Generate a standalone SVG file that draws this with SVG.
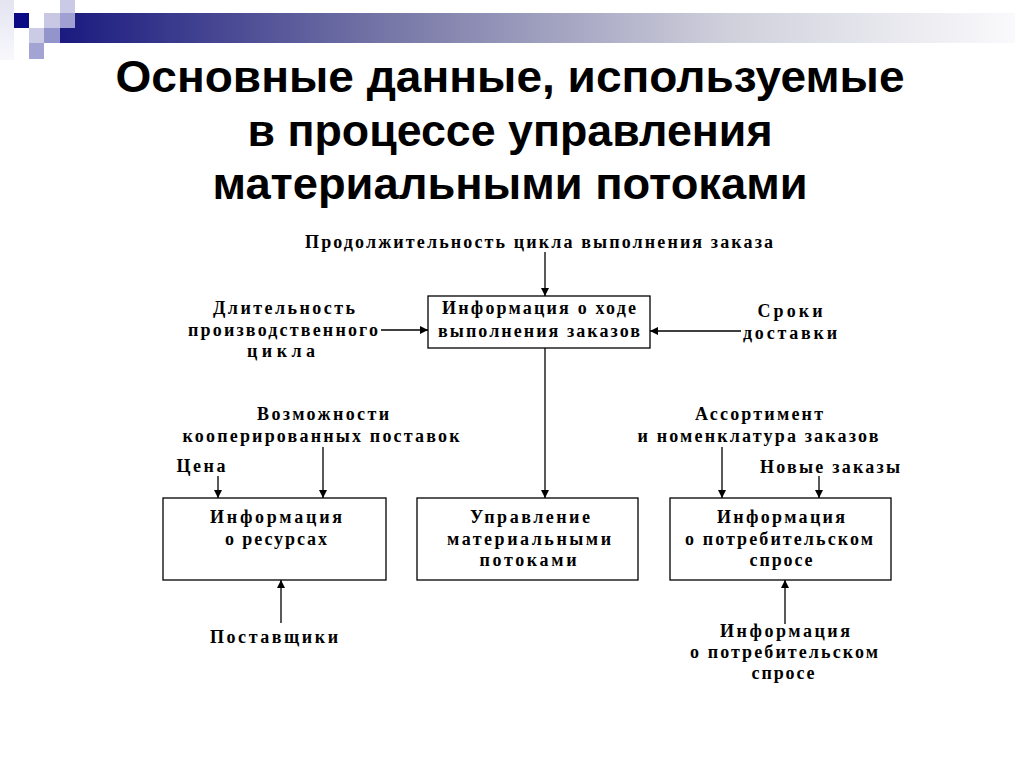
<svg xmlns="http://www.w3.org/2000/svg" width="1024" height="767" viewBox="0 0 1024 767">
<defs>
<linearGradient id="bar" x1="60" y1="0" x2="1015" y2="0" gradientUnits="userSpaceOnUse">
<stop offset="0" stop-color="#1a1a80"/>
<stop offset="0.35" stop-color="#7878a8"/>
<stop offset="0.7" stop-color="#d0d0dc"/>
<stop offset="1" stop-color="#fafafc"/>
</linearGradient>
<linearGradient id="faint" x1="0" y1="0" x2="0" y2="1">
<stop offset="0" stop-color="#e4e4f2"/>
<stop offset="1" stop-color="#f8f8fc"/>
</linearGradient>
<marker id="ah" viewBox="0 0 10 10" refX="10" refY="5" markerWidth="8" markerHeight="8" markerUnits="userSpaceOnUse" orient="auto">
<path d="M0,0 L10,5 L0,10 z" fill="#000"/>
</marker>
<style>
.t{font-family:"Liberation Serif","DejaVu Serif",serif;font-weight:bold;font-size:18px;fill:#000;text-anchor:middle}
.h{font-family:"Liberation Sans Narrow","Liberation Sans","Arial",sans-serif;font-weight:bold;font-size:44px;fill:#000;text-anchor:middle}
.box{fill:#fff;stroke:#000;stroke-width:1.3}
.c{stroke:#000;stroke-width:1.3;fill:none;marker-end:url(#ah)}
</style>
</defs>
<rect width="1024" height="767" fill="#fff"/>
<g id="decor">
<rect x="0" y="0" width="14" height="60" fill="url(#faint)"/>
<rect x="14" y="13" width="15" height="15" fill="#0a0a84"/>
<rect x="60" y="0" width="15" height="13" fill="#cacae6"/>
<rect x="44" y="13" width="16" height="15" fill="#c8c8e4"/>
<rect x="60" y="13" width="15" height="15" fill="#a0a0d2"/>
<rect x="29" y="28" width="15" height="15" fill="#cbcbe6"/>
<rect x="44" y="28" width="16" height="15" fill="#9494cc"/>
<rect x="29" y="43" width="15" height="16" fill="#a4a4d4"/>
<rect x="75" y="13" width="940" height="15" fill="url(#bar)"/>
<rect x="60" y="28" width="955" height="15" fill="url(#bar)"/>
</g>
<g id="title">
<text class="h" x="510" y="92" textLength="789" lengthAdjust="spacingAndGlyphs">Основные данные, используемые</text>
<text class="h" x="510" y="146" textLength="525" lengthAdjust="spacingAndGlyphs">в процессе управления</text>
<text class="h" x="510" y="199" textLength="595" lengthAdjust="spacingAndGlyphs">материальными потоками</text>
</g>
<g id="connectors">
<line class="c" x1="545" y1="252" x2="545" y2="296"/>
<line class="c" x1="381" y1="330" x2="428" y2="330"/>
<line class="c" x1="741" y1="331" x2="650" y2="331"/>
<line class="c" x1="545" y1="348" x2="545" y2="498"/>
<line class="c" x1="218" y1="476" x2="218" y2="498"/>
<line class="c" x1="323" y1="447" x2="323" y2="498"/>
<line class="c" x1="281" y1="623" x2="281" y2="580"/>
<line class="c" x1="722" y1="447" x2="722" y2="498"/>
<line class="c" x1="819" y1="476" x2="819" y2="498"/>
<line class="c" x1="785" y1="624" x2="785" y2="580"/>
</g>
<g id="n_cycle">
<text class="t" x="539" y="248" textLength="468" lengthAdjust="spacing">Продолжительность цикла выполнения заказа</text>
</g>
<g id="n_orders">
<rect class="box" x="428" y="296" width="222" height="52"/>
<text class="t" x="539" y="314" textLength="194" lengthAdjust="spacing">Информация о ходе</text>
<text class="t" x="539" y="337" textLength="202" lengthAdjust="spacing">выполнения заказов</text>
</g>
<g id="n_prod">
<text class="t" x="284" y="314" textLength="142" lengthAdjust="spacing">Длительность</text>
<text class="t" x="283" y="336" textLength="190" lengthAdjust="spacing">производственного</text>
<text class="t" x="281" y="357" textLength="68" lengthAdjust="spacing">цикла</text>
</g>
<g id="n_deliv">
<text class="t" x="790" y="317" textLength="65" lengthAdjust="spacing">Сроки</text>
<text class="t" x="790" y="339" textLength="94" lengthAdjust="spacing">доставки</text>
</g>
<g id="n_coop">
<text class="t" x="323" y="420" textLength="132" lengthAdjust="spacing">Возможности</text>
<text class="t" x="321" y="442" textLength="277" lengthAdjust="spacing">кооперированных поставок</text>
</g>
<g id="n_price">
<text class="t" x="201" y="472" textLength="49" lengthAdjust="spacing">Цена</text>
</g>
<g id="n_resources">
<rect class="box" x="163" y="498" width="223" height="82"/>
<text class="t" x="276" y="523" textLength="132" lengthAdjust="spacing">Информация</text>
<text class="t" x="276" y="545" textLength="102" lengthAdjust="spacing">о ресурсах</text>
</g>
<g id="n_suppliers">
<text class="t" x="274" y="643" textLength="128" lengthAdjust="spacing">Поставщики</text>
</g>
<g id="n_mgmt">
<rect class="box" x="417" y="498" width="221" height="82"/>
<text class="t" x="530" y="523" textLength="120" lengthAdjust="spacing">Управление</text>
<text class="t" x="529" y="545" textLength="164" lengthAdjust="spacing">материальными</text>
<text class="t" x="528" y="566" textLength="97" lengthAdjust="spacing">потоками</text>
</g>
<g id="n_assort">
<text class="t" x="759" y="420" textLength="128" lengthAdjust="spacing">Ассортимент</text>
<text class="t" x="758" y="442" textLength="241" lengthAdjust="spacing">и номенклатура заказов</text>
</g>
<g id="n_new">
<text class="t" x="830" y="473" textLength="140" lengthAdjust="spacing">Новые заказы</text>
</g>
<g id="n_demand">
<rect class="box" x="670" y="498" width="221" height="82"/>
<text class="t" x="781" y="523" textLength="128" lengthAdjust="spacing">Информация</text>
<text class="t" x="779" y="545" textLength="188" lengthAdjust="spacing">о потребительском</text>
<text class="t" x="781" y="566" textLength="63" lengthAdjust="spacing">спросе</text>
</g>
<g id="n_demand_src">
<text class="t" x="785" y="637" textLength="130" lengthAdjust="spacing">Информация</text>
<text class="t" x="784" y="658" textLength="188" lengthAdjust="spacing">о потребительском</text>
<text class="t" x="783" y="679" textLength="63" lengthAdjust="spacing">спросе</text>
</g>
</svg>
